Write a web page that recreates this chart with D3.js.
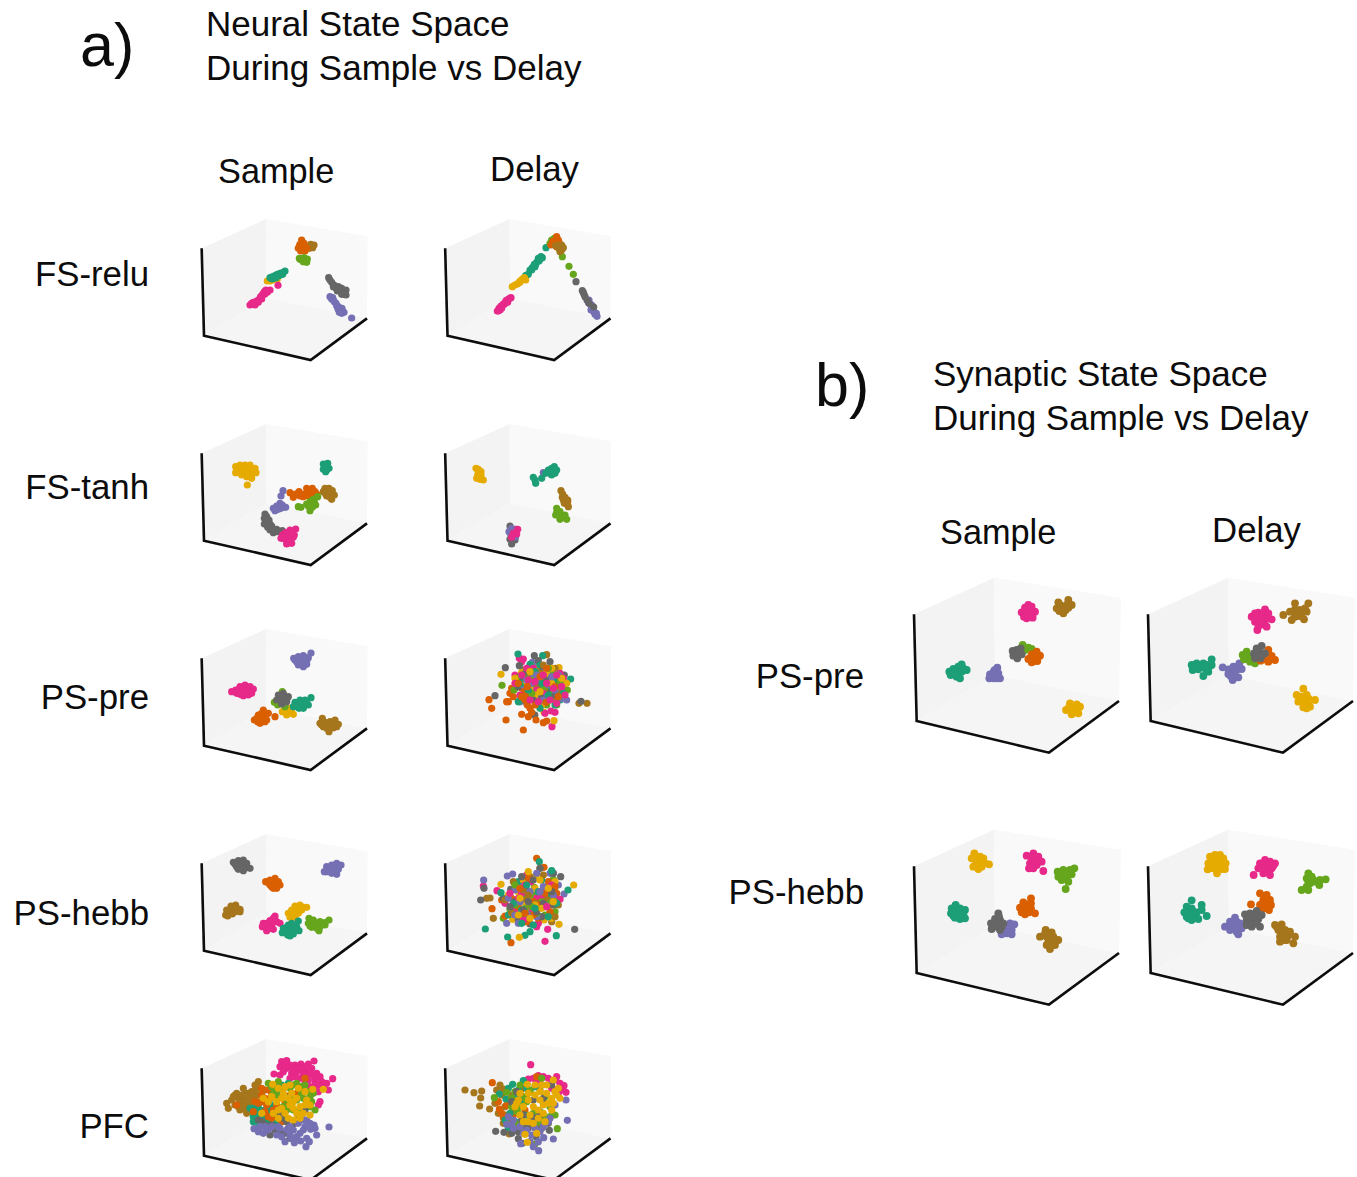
<!DOCTYPE html>
<html><head><meta charset="utf-8">
<script src="https://cdn.jsdelivr.net/npm/d3@7"></script>
<style>html,body{margin:0;padding:0;background:#fff;overflow:hidden}svg{display:block}text{font-family:"Liberation Sans",Arial,sans-serif;fill:#0c0c0c}</style>
</head><body><svg id="c" width="1357" height="1177"></svg>
<script>
const palette = {t:"#1b9e77",o:"#d95f02",p:"#7570b3",m:"#e7298a",g:"#66a61e",y:"#e6ab02",b:"#a6761d",k:"#666666"};

const fsReluSample = {
b:[[362,118],[372,120],[368,128],[358,130],[365,122]],
o:[[335,105],[330,118],[342,115],[325,130],[338,128],[350,130],[332,138],[345,138],[340,120],[328,124],[338,135]],
g:[[328,160],[330,163],[342,158],[352,162],[340,170],[350,172],[335,165],[345,165]],
y:[[232,228],[240,228],[248,225],[262,222]],
t:[[285,198],[278,203],[270,205],[262,208],[255,212],[248,215],[240,218],[265,212],[272,210],[252,220],[258,218],[258,212],[268,208],[278,208],[246,222]],
m:[[180,300],[190,298],[198,292],[206,285],[212,275],[218,268],[225,258],[240,255],[232,262],[185,295],[205,292],[215,282],[224,268],[264,241],[195,300],[210,280],[222,262],[228,255],[200,288],[190,292]],
k:[[416,218],[425,232],[432,240],[445,245],[455,250],[468,255],[468,270],[455,268],[442,258],[430,245],[460,262],[450,255],[438,250],[462,268],[448,248],[420,225]],
p:[[420,275],[430,285],[438,295],[445,305],[452,318],[462,322],[448,322],[440,302],[428,278],[485,339],[456,310],[433,290],[444,312],[455,325],[425,282]]};
const fsReluDelay = {
t:[[333,128],[318,155],[322,158],[310,160],[305,172],[298,178],[292,188],[285,195],[280,208],[272,212],[268,220],[300,185],[312,168],[302,178],[290,195],[315,162],[276,210]],
y:[[232,245],[240,240],[248,236],[255,232],[262,222],[268,218],[272,225],[255,228]],
m:[[187,318],[192,310],[198,303],[205,297],[212,290],[220,283],[228,278],[195,315],[208,298],[218,292],[200,310],[214,286],[224,280],[190,318]],
g:[[350,105],[358,100],[345,115],[382,155],[402,184],[415,208],[375,135]],
o:[[365,95],[355,108],[348,120],[360,118],[372,112],[365,125],[352,113],[360,108],[370,105]],
b:[[380,120],[372,130],[375,140],[362,122],[380,135],[370,120],[385,128]],
k:[[423,230],[442,257],[447,268],[450,275],[445,262]],
p:[[462,285],[466,298],[470,308],[475,318],[484,325],[486,334],[460,292],[478,322],[470,300],[480,328],[468,315]],
k2:[[456,285],[476,306],[462,295]]};
const fsTanhSample = {
y:[[122,140],[135,135],[150,135],[165,135],[122,158],[135,150],[150,148],[165,150],[180,145],[183,158],[140,165],[155,170],[170,175],[157,195],[168,165],[128,148],[142,142],[158,142],[172,160],[145,158],[160,160]],
t:[[385,132],[398,130],[390,142],[402,145],[392,155],[385,148],[397,138],[390,135],[395,150]],
b:[[390,205],[402,205],[385,215],[398,218],[412,212],[418,225],[405,232],[410,238],[395,228],[395,208],[405,220],[392,222],[403,225]],
o:[[285,218],[295,232],[312,215],[315,228],[328,222],[335,205],[352,205],[345,215],[360,215],[340,228],[352,228],[365,222],[338,215],[350,222],[325,230],[302,222]],
g:[[368,230],[355,238],[345,245],[340,258],[352,262],[362,255],[345,272],[352,250],[318,262],[310,260],[335,252],[348,255],[345,262],[358,245]],
p:[[264,212],[258,228],[255,250],[262,262],[272,262],[245,258],[235,265],[250,268],[262,255],[240,272],[252,258],[258,265]],
k:[[210,282],[208,295],[215,305],[208,312],[218,322],[225,330],[235,338],[250,335],[262,332],[222,300],[230,318],[240,330],[212,298],[225,312],[232,325],[215,290],[245,328]],
m:[[302,327],[285,330],[272,338],[262,345],[258,355],[270,358],[285,360],[275,372],[295,352],[298,345],[290,370],[280,345],[278,355],[268,350],[290,340],[282,365]]};
const fsTanhDelay = {
y:[[843,145],[850,155],[858,155],[848,165],[858,165],[845,175],[855,178],[865,180],[852,165],[852,172],[850,148]],
p:[[1045,158]],
t:[[1078,140],[1070,145],[1060,150],[1085,150],[1075,155],[1065,160],[1080,160],[1052,160],[1040,175],[1015,172],[1020,180],[1022,190],[1070,165],[1072,150],[1068,152],[1078,150],[1060,155]],
o:[[1118,245]],
b:[[1098,212],[1103,222],[1110,232],[1105,240],[1118,240],[1112,250],[1120,260],[1102,232],[1110,240],[1108,250]],
g:[[1085,265],[1085,278],[1095,275],[1100,288],[1110,285],[1115,298],[1095,298],[1082,285],[1090,285],[1105,292]],
k:[[945,318],[945,335],[948,345],[945,358],[950,372],[960,360],[955,350],[962,328]],
p2:[[942,335],[950,325],[962,350]],
m:[[968,328],[955,340],[965,342],[950,352]]};
const psPreSample = {
p:[[348,84],[296,100],[310,95],[325,92],[340,98],[305,110],[320,105],[335,110],[310,120],[325,125],[335,118],[315,100],[330,100],[312,112],[328,115],[300,105]],
m:[[110,200],[122,195],[135,185],[150,180],[165,185],[175,192],[125,205],[140,200],[155,195],[170,205],[145,212],[160,210],[130,195],[145,190],[160,195],[135,208],[150,205],[165,200]],
o:[[178,285],[190,270],[205,255],[220,265],[185,280],[205,275],[215,285],[195,295],[210,290],[240,275],[195,280],[200,265],[212,268],[188,290],[200,285]],
y:[[262,260],[275,265],[290,262],[295,268],[270,255],[285,250],[280,258],[275,270]],
t:[[348,218],[300,232],[315,225],[330,225],[340,240],[295,245],[310,245],[325,250],[330,238],[318,238],[305,238],[320,230],[335,232],[312,250]],
g:[[238,232],[248,240],[262,200],[270,245]],
k:[[250,210],[265,205],[280,215],[245,225],[260,222],[275,230],[260,237],[255,215],[270,215],[262,212]],
b:[[382,280],[420,285],[375,295],[390,292],[405,290],[430,298],[385,305],[400,312],[402,320],[415,308],[425,305],[395,298],[410,300],[380,300],[395,310],[420,295]]};
const psPreDelay = {
o:[[147,224],[155,250],[198,285],[250,315],[205,230],[215,190],[210,205],[220,215],[200,230],[245,268],[265,275],[275,262],[288,285],[310,293],[320,288],[245,190],[255,200],[265,210],[255,225],[262,240],[270,250],[245,215],[300,155],[320,130],[345,185],[235,175],[285,240],[262,185],[355,215],[318,232]],
m:[[238,100],[250,102],[245,110],[336,305],[225,150],[235,165],[270,150],[345,262],[333,258],[315,265],[360,145],[370,160],[378,175],[300,170],[330,165],[290,195],[240,210],[280,130],[310,205],[350,235],[260,130],[225,175],[375,210],[320,175],[265,165],[245,150],[285,170],[310,150],[340,190],[365,185],[295,230],[270,225],[330,225],[350,150]],
t:[[234,87],[308,92],[392,162],[225,190],[350,210],[360,225],[320,150],[300,120],[275,165],[260,155],[335,195],[290,215],[355,180],[345,240],[235,230],[270,118],[245,175],[285,140],[305,175],[325,210],[340,165],[370,205],[265,195],[300,250]],
k:[[196,128],[165,212],[283,92],[295,107],[238,122],[373,150],[423,229],[284,270],[330,110],[310,135],[280,170],[330,205],[260,235],[250,160],[350,165],[235,185],[260,140],[295,160],[320,165],[345,210],[280,225],[305,220]],
y:[[183,148],[357,128],[245,142],[295,130],[342,287],[312,262],[315,215],[240,170],[335,130],[270,190],[310,160],[290,148],[350,200],[305,240],[380,175],[255,175],[225,160],[260,170],[285,210],[320,145],[335,175],[365,160],[300,200],[270,140]],
g:[[186,181],[250,135],[272,120],[335,140],[382,195],[320,240],[350,240],[240,155],[290,180],[365,195],[345,150],[305,180],[260,180],[330,225],[222,195],[255,145],[280,165],[310,195],[340,205],[360,170],[295,240],[275,205],[325,130]],
p:[[277,112],[290,125],[270,200],[300,195],[325,185],[285,225],[380,225],[360,190],[340,175],[260,215],[315,140],[240,230],[300,210],[355,150],[280,150],[250,180],[275,175],[300,165],[320,215],[345,195],[365,220],[290,150],[335,155],[260,165],[310,225]],
b:[[320,89],[417,235],[441,235],[284,270],[272,133],[300,140],[320,200],[345,130],[285,205],[330,175],[250,150],[310,120],[265,160],[290,185],[340,220],[305,145],[355,205]]};
const psHebbSample = {
k:[[115,97],[130,92],[145,90],[155,100],[165,115],[125,110],[140,105],[150,115],[130,118],[145,122],[135,100],[150,105],[120,103],[135,112],[155,112]],
o:[[212,155],[225,150],[240,145],[250,155],[255,165],[225,165],[240,165],[235,175],[245,175],[232,155],[220,158],[245,165],[230,170]],
p:[[388,125],[395,110],[410,105],[425,100],[438,105],[400,120],[415,120],[430,118],[425,133],[410,130],[405,112],[420,110],[395,125],[420,125],[430,110]],
b:[[95,240],[108,228],[122,225],[135,238],[92,255],[105,250],[120,245],[135,245],[98,258],[110,238],[100,245],[125,235],[112,252]],
y:[[300,228],[315,225],[335,232],[290,240],[305,240],[320,240],[280,250],[295,255],[310,250],[285,262],[300,262],[310,232],[325,232],[300,250],[312,245],[292,248]],
m:[[240,258],[225,272],[205,280],[215,290],[230,285],[245,275],[255,280],[215,302],[235,298],[202,290],[215,280],[235,275],[225,295],[235,265]],
g:[[342,265],[355,270],[375,275],[402,270],[340,280],[355,285],[375,290],[390,285],[350,292],[372,302],[390,278],[350,272],[365,280],[382,280],[365,295],[345,288]],
t:[[310,273],[280,285],[295,290],[265,295],[280,300],[300,300],[312,302],[262,308],[278,315],[295,312],[285,318],[290,280],[275,292],[288,303],[305,290],[270,302]]};
const psHebbDelay = {
o:[[290,85],[312,112],[213,338],[156,236],[195,258],[185,210],[215,205],[325,155],[310,200],[320,215],[350,190],[265,145],[295,265],[235,230],[260,275],[280,215],[330,245],[300,225],[315,190],[240,175],[280,255],[345,170],[255,250]],
t:[[298,95],[136,297],[203,321],[255,316],[270,305],[349,317],[183,188],[235,155],[305,150],[335,122],[384,180],[250,205],[280,285],[205,255],[330,190],[245,240],[220,220],[260,165],[295,185],[325,260],[350,220],[245,280],[285,235]],
p:[[202,138],[218,132],[131,150],[340,130],[372,192],[200,280],[330,130],[355,165],[250,170],[300,230],[275,250],[225,180],[310,170],[235,280],[290,260],[270,185],[240,215],[290,130],[315,225],[205,205],[265,260],[340,195],[225,255],[300,185]],
k:[[362,140],[404,298],[122,210],[132,175],[212,178],[190,205],[300,115],[340,130],[260,180],[320,180],[270,282],[235,270],[305,260],[225,215],[340,225],[245,140],[280,150],[250,240],[310,220],[210,230],[290,245],[335,185],[265,215]],
y:[[183,163],[401,165],[357,283],[238,322],[288,138],[235,185],[270,200],[312,270],[250,150],[325,228],[218,268],[335,265],[285,175],[345,155],[258,225],[265,125],[300,150],[240,205],[205,195],[285,225],[305,235],[325,175],[270,265],[235,255],[340,215]],
m:[[171,182],[130,168],[315,334],[323,298],[360,208],[195,220],[272,155],[290,290],[315,175],[260,135],[295,280],[345,205],[225,240],[245,190],[290,205],[235,205],[255,165],[305,195],[335,165],[275,235],[250,270],[320,230],[210,190]],
g:[[340,148],[235,240],[190,265],[345,185],[283,172],[345,245],[210,238],[300,205],[260,250],[330,210],[245,260],[315,255],[280,195],[225,225],[255,235],[305,215],[345,215],[225,165],[290,250],[275,230]],
b:[[140,205],[150,204],[160,265],[300,115],[270,140],[355,225],[240,265],[335,275],[195,210],[280,240],[220,155],[320,200],[255,210],[310,135],[250,180],[215,250],[290,220],[345,260],[265,195]]};
const pfcSample = {
m:[[275,95],[290,92],[315,105],[333,102],[372,93],[355,102],[270,110],[290,115],[305,130],[320,125],[335,120],[350,125],[252,132],[365,115],[380,130],[390,140],[428,146],[410,160],[375,155],[400,170],[385,185],[415,180],[390,215],[385,225],[330,145],[345,160],[270,135],[300,145],[360,170],[350,140],[310,115],[370,135],[285,105],[300,105],[325,115],[345,110],[360,125],[375,145],[340,135],[355,150],[395,155],[385,165],[280,125],[315,140],[370,175]],
b:[[110,220],[115,235],[135,195],[160,175],[205,155],[195,165],[145,205],[160,210],[175,200],[185,185],[210,175],[165,225],[150,240],[170,250],[225,180],[190,210],[140,190],[180,215],[205,195],[155,195],[125,210],[135,225],[150,215],[175,190],[190,195],[160,235],[175,235],[145,230],[195,180],[215,195],[130,200],[200,215],[165,190]],
t:[[195,230],[210,240],[190,260],[205,275],[235,215],[205,293],[255,170],[275,165],[295,160],[240,250],[220,265],[260,275],[180,235],[190,245],[200,255],[215,255],[225,240],[240,235],[205,225],[215,280],[235,275],[250,225],[270,185],[190,275]],
o:[[140,225],[190,245],[215,175],[235,180],[240,205],[230,225],[250,240],[245,265],[270,250],[300,195],[225,245],[345,145],[255,195],[205,220],[215,195],[225,205],[260,225],[285,215],[235,260],[255,255],[275,275],[195,215],[320,190],[215,215],[245,190]],
g:[[235,160],[265,155],[320,160],[345,165],[360,200],[375,240],[335,190],[300,175],[320,210],[280,230],[345,230],[310,240],[250,190],[290,210],[370,190],[265,200],[280,175],[310,165],[335,170],[355,185],[365,215],[330,240],[300,200],[260,180],[340,205],[290,240],[360,230],[245,170]],
k:[[205,270],[275,245],[240,315],[255,300],[285,310],[300,325],[315,280],[345,240],[280,265],[225,285],[295,295],[215,275],[235,295],[265,260],[270,305],[305,295],[325,255],[245,285],[335,265],[290,275]],
p:[[192,296],[205,305],[225,290],[220,310],[275,320],[290,300],[310,300],[330,310],[313,338],[350,325],[332,333],[358,335],[348,350],[417,291],[380,315],[372,285],[345,290],[325,280],[350,270],[362,298],[270,295],[245,290],[300,315],[235,300],[260,315],[285,335],[305,325],[340,300],[360,280],[375,295],[300,290],[320,320],[265,290],[210,290],[340,270]],
y:[[248,163],[285,170],[325,175],[400,178],[368,178],[350,210],[280,190],[220,205],[215,250],[260,215],[300,225],[320,205],[345,225],[250,250],[295,265],[330,265],[275,205],[360,255],[310,235],[265,240],[305,190],[265,175],[300,165],[345,185],[235,215],[295,205],[330,230],[275,235],[320,250],[245,200],[360,225],[285,250],[310,215],[340,250],[265,265],[310,270]]};
const pfcDelay = {
m:[[272,89],[265,132],[295,122],[345,135],[360,145],[372,152],[378,172],[290,140],[330,150],[355,175],[325,130],[350,125],[365,165],[300,135],[335,160],[310,125],[345,165],[280,130]],
b:[[75,165],[102,173],[125,168],[122,189],[119,213],[149,222],[170,165],[190,162],[165,205],[175,235],[190,265],[208,297],[215,180],[240,170],[260,190],[300,165],[225,225],[185,180],[195,240],[205,285],[180,150],[225,195],[250,160],[195,215],[210,265]],
o:[[157,143],[175,200],[178,222],[190,248],[225,280],[240,240],[200,210],[290,125],[265,270],[220,240],[230,270],[205,195],[185,235],[255,225],[215,290]],
t:[[250,137],[218,148],[178,177],[198,192],[210,235],[205,278],[245,205],[285,155],[300,230],[230,190],[235,165],[260,160],[220,205],[270,170],[205,160],[255,240],[195,255],[225,260]],
g:[[163,188],[305,130],[200,172],[215,190],[232,230],[260,200],[295,260],[345,240],[352,281],[285,327],[310,200],[270,250],[240,150],[330,215],[300,272],[225,170],[250,185],[280,235],[310,245],[240,215],[270,165],[330,245],[215,215],[225,265],[315,185]],
k:[[167,289],[192,292],[235,311],[247,325],[328,286],[288,305],[230,170],[300,240],[335,150],[265,280],[280,195],[245,255],[325,265],[215,200],[250,240],[285,250],[305,280],[215,295],[275,245],[310,190],[255,275],[235,290]],
p:[[382,256],[378,195],[311,308],[340,312],[296,347],[242,326],[205,245],[275,300],[200,268],[260,285],[325,260],[345,210],[220,255],[295,320],[250,295],[220,280],[240,275],[285,280],[300,290],[315,265],[270,320],[310,275],[280,335],[215,270],[330,250]],
y:[[340,135],[262,148],[305,150],[320,150],[355,160],[360,190],[340,205],[265,175],[285,180],[320,175],[250,215],[280,215],[310,210],[250,260],[280,265],[310,235],[255,298],[262,322],[335,225],[225,215],[300,195],[240,175],[285,150],[345,170],[230,205],[265,195],[300,170],[335,190],[240,240],[270,240],[295,250],[325,205],[265,260],[235,195],[315,260],[295,225],[350,180],[290,295]]};
const synPreSample = {
t:[[148,320],[160,312],[175,305],[185,298],[200,315],[152,330],[168,325],[185,320],[170,335],[180,340],[165,318],[178,315],[190,310],[160,322]],
p:[[292,308],[282,318],[270,328],[268,340],[280,340],[295,325],[300,340],[285,328],[285,315],[275,335],[290,340]],
m:[[385,120],[375,128],[365,142],[378,142],[395,125],[405,140],[380,160],[398,158],[390,135],[372,155],[385,130],[378,150],[390,148],[375,135]],
b:[[475,112],[505,105],[470,130],[485,125],[500,120],[515,120],[490,145],[478,138],[497,135],[490,132],[480,120],[505,128]],
g:[[368,240],[385,248],[395,252],[375,255]],
k:[[338,258],[350,255],[362,250],[340,272],[352,268],[365,268],[352,280],[348,262],[355,260]],
o:[[410,260],[395,268],[385,282],[400,278],[420,272],[412,288],[395,292],[405,270],[402,288]],
y:[[510,415],[530,418],[498,435],[515,432],[540,425],[535,445],[515,448],[520,425],[508,425],[525,440]]};
const synPreDelay = {
t:[[155,285],[170,280],[190,280],[215,268],[158,300],[175,298],[195,295],[215,285],[190,318],[205,305],[170,290],[185,290],[200,285],[205,295],[165,292]],
p:[[248,292],[265,298],[280,290],[298,280],[265,312],[280,310],[305,297],[278,330],[295,322],[272,305],[290,300],[285,320],[272,318]],
m:[[375,118],[355,128],[335,140],[350,142],[370,135],[385,130],[395,148],[345,155],[365,158],[380,170],[352,180],[360,165],[360,145],[375,150],[355,165],[385,145],[345,130]],
b:[[430,135],[450,125],[465,100],[505,100],[465,118],[480,120],[495,115],[455,150],[475,138],[492,148],[500,125],[470,130],[485,130],[465,140]],
g:[[308,255],[320,245],[312,268],[328,262],[345,280],[330,275],[320,260],[335,270]],
o:[[385,240],[375,268],[395,258],[405,270],[385,275],[362,272]],
k:[[365,228],[350,235],[342,250],[358,248],[375,250],[345,265],[362,265],[350,255],[352,245],[365,255]],
y:[[490,356],[470,375],[485,380],[505,385],[525,390],[475,395],[495,400],[510,410],[490,412],[500,415],[490,390],[505,400],[480,385],[500,375]]};
const synHebbSample = {
y:[[208,85],[225,95],[200,100],[215,110],[235,100],[240,115],[252,118],[205,125],[220,132],[230,125],[215,95],[212,120],[225,110],[228,115]],
m:[[385,85],[365,92],[380,100],[400,95],[410,110],[375,115],[395,120],[385,130],[372,130],[415,138],[385,110],[390,95],[378,125],[400,108]],
g:[[508,130],[458,140],[475,135],[495,135],[460,155],[480,150],[500,148],[470,165],[490,170],[482,192],[470,148],[485,160],[490,145],[475,158]],
t:[[152,240],[140,250],[165,250],[180,255],[138,265],[155,265],[175,268],[150,278],[165,282],[180,280],[150,255],[165,262],[160,272],[145,272]],
o:[[378,220],[355,232],[370,238],[345,248],[360,250],[378,250],[390,265],[360,268],[372,262],[350,262],[362,240],[365,255],[378,235]],
p:[[328,298],[315,295],[305,308],[320,315],[290,328],[305,325],[320,328],[312,310],[318,322]],
k:[[280,265],[270,282],[285,285],[258,295],[275,300],[295,295],[260,312],[285,315],[290,305],[275,290],[282,275],[270,305]],
b:[[422,315],[440,322],[405,335],[425,335],[445,335],[460,345],[430,352],[450,360],[435,372],[425,360],[435,340],[440,350],[420,325],[445,350]]};
const synHebbDelay = {
y:[[930,90],[915,95],[945,90],[955,100],[910,115],[925,110],[945,112],[962,115],[908,133],[925,130],[950,132],[960,132],[936,145],[925,95],[935,105],[920,120],[940,125],[915,125],[950,122]],
m:[[1080,105],[1065,115],[1095,110],[1110,115],[1060,130],[1080,128],[1100,130],[1075,145],[1095,150],[1046,150],[1075,120],[1090,120],[1085,135],[1070,130],[1090,140],[1105,122]],
g:[[1210,145],[1205,160],[1220,155],[1262,163],[1245,165],[1230,170],[1215,175],[1243,180],[1205,185],[1190,195],[1210,195],[1215,165],[1225,165],[1210,170]],
t:[[860,226],[845,245],[860,250],[890,240],[838,262],[855,265],[875,262],[890,255],[905,273],[850,280],[880,282],[860,285],[855,255],[870,272],[845,275],[865,260]],
o:[[1065,205],[1085,210],[1075,225],[1095,225],[1065,240],[1085,240],[1098,240],[1075,250],[1092,255],[1038,238],[1080,220],[1085,230],[1072,235],[1090,248]],
p:[[990,278],[975,290],[990,300],[1005,295],[960,305],[975,315],[995,320],[1010,310],[1018,300],[1000,328],[985,310],[1000,310],[980,300],[995,290],[1005,305]],
k:[[1020,268],[1035,265],[1055,258],[1070,270],[1025,285],[1045,285],[1060,282],[1025,300],[1045,298],[1065,305],[1040,305],[1040,275],[1050,270],[1035,295],[1055,295]],
b:[[1110,300],[1130,298],[1120,315],[1140,315],[1155,320],[1170,335],[1125,335],[1145,338],[1125,350],[1145,345],[1165,355],[1130,320],[1135,330],[1150,330],[1115,305],[1140,345]]};

const smallBox = {lt:[20,100],top:[213,12],rt:[518,64],lb:[27,362],fr:[347,435],rb:[516,310],bc:[215,250]};
const largeBox = {lt:[42,148],top:[282,38],rt:[663,98],lb:[50,468],fr:[447,563],rb:[657,408],bc:[285,330]};

const panels = [
 {d:fsReluSample,crop:[190,205],box:smallBox,at:[195,215]},
 {d:fsReluDelay,crop:[435,205],box:smallBox,at:[438.5,215]},
 {d:fsTanhSample,crop:[195,420],box:smallBox,at:[195,420]},
 {d:fsTanhDelay,crop:[195,420],box:smallBox,at:[438.5,420]},
 {d:psPreSample,crop:[195,625],box:smallBox,at:[195,625]},
 {d:psPreDelay,crop:[440,625],box:smallBox,at:[438.5,625],mix:true},
 {d:psHebbSample,crop:[195,830],box:smallBox,at:[195,830]},
 {d:psHebbDelay,crop:[440,830],box:smallBox,at:[438.5,830],mix:true},
 {d:pfcSample,crop:[190,1030],box:smallBox,at:[195,1035]},
 {d:pfcDelay,crop:[440,1035],box:smallBox,at:[438.5,1035]},
 {d:synPreSample,crop:[900,565],box:largeBox,at:[900,565]},
 {d:synPreDelay,crop:[1140,570],box:largeBox,at:[1134,565]},
 {d:synHebbSample,crop:[905,825],box:largeBox,at:[900,817]},
 {d:synHebbDelay,crop:[905,825],box:largeBox,at:[1134,817]}
];

const labels = [
 ["a)",80,66,61,"start"],["Neural State Space",206,35.5,35,"start"],["During Sample vs Delay",206,79.5,35,"start"],
 ["Sample",218,182.5,34.3,"start"],["Delay",490,180.5,34.8,"start"],
 ["FS-relu",149,285.5,34.8,"end"],["FS-tanh",149,498.5,34.8,"end"],["PS-pre",149,708.5,34.8,"end"],["PS-hebb",149,924.5,34.8,"end"],["PFC",149,1137.5,34.8,"end"],
 ["b)",815,406,61,"start"],["Synaptic State Space",933,385.5,35,"start"],["During Sample vs Delay",933,429.5,35,"start"],
 ["Sample",940,543.5,34.3,"start"],["Delay",1212,541.5,34.8,"start"],
 ["PS-pre",864,687.5,34.8,"end"],["PS-hebb",864,903.5,34.8,"end"]
];

const svg = d3.select("#c");
const filt = svg.append("defs").append("filter").attr("id","soft").attr("x","-5%").attr("y","-5%").attr("width","110%").attr("height","110%");
filt.append("feGaussianBlur").attr("stdDeviation",0.5);
const root = svg.append("g");
const line = d3.line();

panels.forEach(pn=>{
  const px = d3.scaleLinear().domain([0,300]).range([pn.at[0],pn.at[0]+100]);
  const py = d3.scaleLinear().domain([0,300]).range([pn.at[1],pn.at[1]+100]);
  const P = c=>[px(c[0]),py(c[1])];
  const B = pn.box;
  const g = root.append("g").attr("filter","url(#soft)");
  [[[B.lt,B.top,B.bc,B.lb],"#f3f3f3"],[[B.top,B.rt,B.rb,B.bc],"#f9f9f9"],[[B.lb,B.bc,B.rb,B.fr],"#f5f5f5"]].forEach(([q,f])=>{
    g.append("path").attr("d",line(q.map(P))+"Z").attr("fill",f);
  });
  g.append("path").attr("d",line([B.lt,B.lb,B.fr,B.rb].map(P))).attr("fill","none").attr("stroke","#0a0a0a").attr("stroke-width",2.6);
  const dx = d3.scaleLinear().domain([0,300]).range([pn.crop[0],pn.crop[0]+100]);
  const dy = d3.scaleLinear().domain([0,300]).range([pn.crop[1],pn.crop[1]+100]);
  let pts = [];
  Object.entries(pn.d).forEach(([k,arr],si)=>arr.forEach((c,i)=>pts.push({x:c[0],y:c[1],col:palette[k[0]],o:pn.mix?i*8+si:pts.length})));
  pts.sort((a,b)=>a.o-b.o);
  g.selectAll("circle").data(pts).join("circle")
    .attr("cx",d=>dx(d.x)).attr("cy",d=>dy(d.y)).attr("r",pn.box===largeBox?3.9:3.6).attr("fill",d=>d.col);
});

root.selectAll("text").data(labels).join("text")
  .attr("x",d=>d[1]).attr("y",d=>d[2]).attr("font-size",d=>d[3]).attr("text-anchor",d=>d[4]).text(d=>d[0]);
</script></body></html>
